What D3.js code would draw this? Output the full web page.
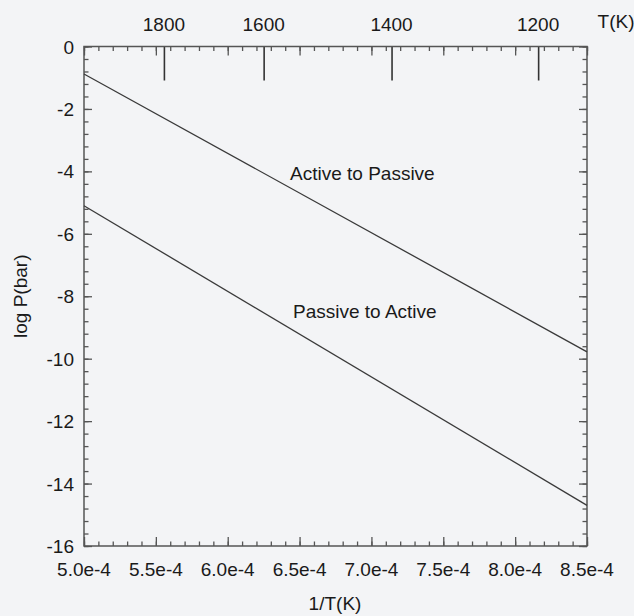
<!DOCTYPE html>
<html><head><meta charset="utf-8">
<script src="https://cdn.jsdelivr.net/npm/d3@7"></script>
<style>html,body{margin:0;padding:0;background:#f3f4f6;}svg{display:block;}</style>
</head><body>
<script>
// Data
const xDomain = [5.0e-4, 8.5e-4];
const yDomain = [-16, 0];
const xTicks = [5.0e-4, 5.5e-4, 6.0e-4, 6.5e-4, 7.0e-4, 7.5e-4, 8.0e-4, 8.5e-4];
const xTickLabels = ["5.0e-4","5.5e-4","6.0e-4","6.5e-4","7.0e-4","7.5e-4","8.0e-4","8.5e-4"];
const yTicks = [0, -2, -4, -6, -8, -10, -12, -14, -16];
const topTLabels = ["1800", "1600", "1400", "1200"];
const topTPositions = [5.556e-4, 6.25e-4, 7.14e-4, 8.16e-4]; // as drawn
const activeToPassiveX = [5.0e-4, 8.5e-4];
const activeToPassiveY = [-0.88, -9.78];
const passiveToActiveX = [5.0e-4, 8.5e-4];
const passiveToActiveY = [-5.1, -14.7];
const seriesLabels = ["Active to Passive", "Passive to Active"];

const W = 634, H = 616;
const m = {left: 84, right: 634 - 587, top: 46.5, bottom: 616 - 546};
const svg = d3.select("body").append("svg").attr("width", W).attr("height", H)
  .style("font-family", "'Liberation Sans', Arial, sans-serif");
svg.append("rect").attr("width", W).attr("height", H).attr("fill", "#f3f4f6");

const x = d3.scaleLinear().domain(xDomain).range([m.left, W - m.right]);
const y = d3.scaleLinear().domain(yDomain).range([H - m.bottom, m.top]);

const axisColor = "#555";
const textColor = "#1a1a1a";
const fs = 19;

const minorX = d3.range(0, 36).map(i => xDomain[0] + i * 0.1e-4).filter(v => v <= xDomain[1] + 1e-9);
const minorY = d3.range(0, 41).map(i => -16 + i * 0.4);

function styleAxis(g) {
  g.select(".domain").remove();
  g.selectAll("line").attr("stroke", axisColor).attr("stroke-width", 1.3);
  g.selectAll("text").remove();
}

// bottom minor + major ticks (inward)
svg.append("g").attr("transform", `translate(0,${y(-16)})`)
  .call(d3.axisTop(x).tickValues(minorX).tickSize(4.5)).call(styleAxis);
svg.append("g").attr("transform", `translate(0,${y(-16)})`)
  .call(d3.axisTop(x).tickValues(xTicks).tickSize(9)).call(styleAxis);
// top minor + major ticks (inward)
svg.append("g").attr("transform", `translate(0,${y(0)})`)
  .call(d3.axisBottom(x).tickValues(minorX).tickSize(4.5)).call(styleAxis);
svg.append("g").attr("transform", `translate(0,${y(0)})`)
  .call(d3.axisBottom(x).tickValues(xTicks).tickSize(9)).call(styleAxis);
// top T ticks (long)
svg.append("g").attr("transform", `translate(0,${y(0)})`)
  .call(d3.axisBottom(x).tickValues(topTPositions).tickSize(34)).call(styleAxis)
  .selectAll("line").attr("stroke", "#333").attr("stroke-width", 1.6);
// left ticks
svg.append("g").attr("transform", `translate(${x(xDomain[0])},0)`)
  .call(d3.axisRight(y).tickValues(minorY).tickSize(4.5)).call(styleAxis);
svg.append("g").attr("transform", `translate(${x(xDomain[0])},0)`)
  .call(d3.axisRight(y).tickValues(yTicks).tickSize(8)).call(styleAxis);
// right ticks
svg.append("g").attr("transform", `translate(${x(xDomain[1])},0)`)
  .call(d3.axisLeft(y).tickValues(minorY).tickSize(4.5)).call(styleAxis);
svg.append("g").attr("transform", `translate(${x(xDomain[1])},0)`)
  .call(d3.axisLeft(y).tickValues(yTicks).tickSize(8)).call(styleAxis);

// frame
svg.append("rect").attr("x", x(xDomain[0])).attr("y", y(0))
  .attr("width", x(xDomain[1]) - x(xDomain[0])).attr("height", y(-16) - y(0))
  .attr("fill", "none").attr("stroke", axisColor).attr("stroke-width", 1.5);

// bottom tick labels
svg.append("g").selectAll("text").data(xTicks).join("text")
  .attr("x", d => x(d)).attr("y", 576).attr("text-anchor", "middle")
  .attr("font-size", fs).attr("fill", textColor)
  .text((d, i) => xTickLabels[i]);
// left tick labels
svg.append("g").selectAll("text").data(yTicks).join("text")
  .attr("x", 74).attr("y", d => y(d) + 7).attr("text-anchor", "end")
  .attr("font-size", fs).attr("fill", textColor)
  .text(d => d3.format("d")(d).replace("−", "-"));
// top T labels
svg.append("g").selectAll("text").data(topTPositions).join("text")
  .attr("x", d => x(d)).attr("y", 31).attr("text-anchor", "middle")
  .attr("font-size", fs).attr("fill", textColor)
  .text((d, i) => topTLabels[i]);
svg.append("text").attr("x", 616).attr("y", 28).attr("text-anchor", "middle")
  .attr("font-size", fs).attr("fill", textColor).text("T(K)");

// axis titles
svg.append("text").attr("x", 335).attr("y", 610).attr("text-anchor", "middle")
  .attr("font-size", fs).attr("fill", textColor).text("1/T(K)");
svg.append("text").attr("transform", `translate(27,${(y(0) + y(-16)) / 2}) rotate(-90)`)
  .attr("text-anchor", "middle").attr("font-size", fs).attr("fill", textColor).text("log P(bar)");

// lines
const line = d3.line().x(d => x(d[0])).y(d => y(d[1]));
svg.append("path").datum(activeToPassiveX.map((v, i) => [v, activeToPassiveY[i]]))
  .attr("d", line).attr("fill", "none").attr("stroke", "#3a3a3a").attr("stroke-width", 1.3);
svg.append("path").datum(passiveToActiveX.map((v, i) => [v, passiveToActiveY[i]]))
  .attr("d", line).attr("fill", "none").attr("stroke", "#3a3a3a").attr("stroke-width", 1.3);

// line labels
svg.append("text").attr("x", 290).attr("y", 180).attr("font-size", fs).attr("fill", textColor).text(seriesLabels[0]);
svg.append("text").attr("x", 293).attr("y", 318).attr("font-size", fs).attr("fill", textColor).text(seriesLabels[1]);
</script>
</body></html>
